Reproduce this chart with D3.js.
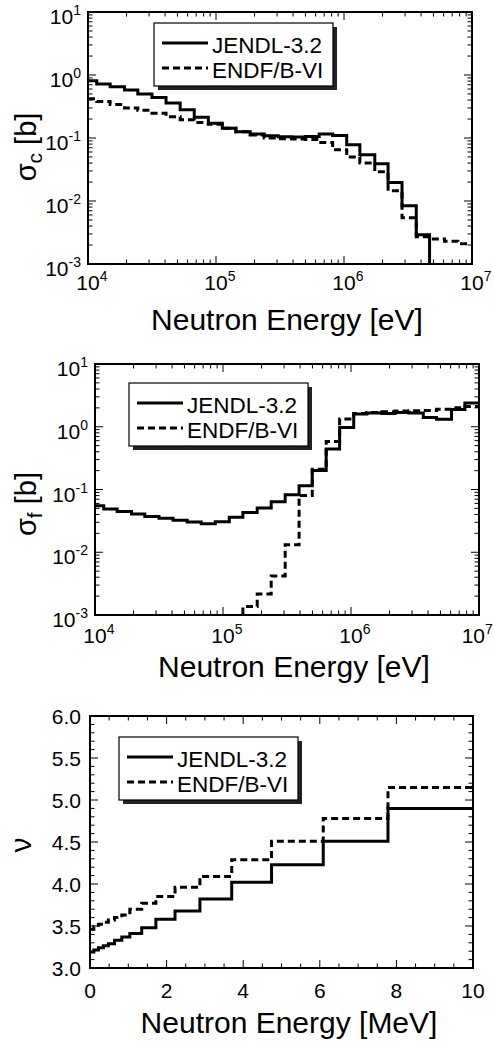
<!DOCTYPE html>
<html>
<head>
<meta charset="utf-8">
<script src="https://cdn.jsdelivr.net/npm/d3@7"></script>
<style>
  body { margin: 0; background: #fff; }
  text { font-family: "Liberation Sans", Arial, Helvetica, sans-serif; fill: #000; }
</style>
</head>
<body>
<svg id="fig" width="494" height="1044"></svg>
<script>
// group boundaries [eV]
const groupEdges = [1.00e4, 1.17e4, 1.49e4, 1.93e4, 2.45e4, 3.16e4, 4.07e4, 5.25e4, 6.76e4, 8.71e4,
  1.12e5, 1.43e5, 1.85e5, 2.38e5, 3.06e5, 3.93e5, 4.98e5, 6.40e5, 8.15e5,
  1.05e6, 1.33e6, 1.74e6, 2.21e6, 2.84e6, 3.67e6, 4.66e6, 6.10e6, 7.76e6, 1.00e7];

// capture cross section [b]
const capJendl = [0.81, 0.72, 0.65, 0.58, 0.50, 0.44, 0.36, 0.28, 0.214, 0.172, 0.143, 0.126, 0.116,
  0.109, 0.105, 0.104, 0.106, 0.116, 0.110, 0.078, 0.054, 0.039, 0.0197, 0.0084, 0.0029, 1e-5];
const capEndf = [0.42, 0.38, 0.34, 0.30, 0.275, 0.248, 0.218, 0.195, 0.177, 0.165, 0.143, 0.126, 0.112,
  0.100, 0.097, 0.096, 0.095, 0.085, 0.065, 0.050, 0.040, 0.029, 0.0145, 0.0054, 0.0027, 0.0025, 0.0023, 0.0021];

// fission cross section [b]
const fisJendl = [0.055, 0.049, 0.0448, 0.0407, 0.0373, 0.0347, 0.0323, 0.0303, 0.0285, 0.0307, 0.036,
  0.043, 0.0507, 0.064, 0.0826, 0.115, 0.20, 0.44, 0.97, 1.60, 1.65, 1.62, 1.68, 1.66, 1.41, 1.32, 1.88, 2.38];
const fisEndf = [5e-4, 0.00136, 0.00216, 0.0042, 0.0132, 0.080, 0.21, 0.58, 1.33, 1.62, 1.68, 1.74,
  1.78, 1.80, 1.82, 1.90, 2.0, 2.1];   // starts at groupEdges[10]

// nu-bar
const nuEdges = [0, 0.1, 0.22, 0.35, 0.48, 0.64, 0.83, 1.04, 1.35, 1.72, 2.22, 2.87, 3.70, 4.74, 6.09, 7.78, 10];
const nuJendl = [3.19, 3.215, 3.24, 3.265, 3.29, 3.33, 3.37, 3.41, 3.48, 3.58, 3.68, 3.82, 4.02, 4.23, 4.51, 4.90];
const nuEndf = [3.46, 3.49, 3.52, 3.545, 3.57, 3.60, 3.63, 3.70, 3.77, 3.85, 3.96, 4.09, 4.29, 4.51, 4.78, 5.15];

const legendLabels = ["JENDL-3.2", "ENDF/B-VI"];

const svg = d3.select("#fig");
const DASH = "7,4";
const W = 494;

function powLabel(sel, exp) {
  sel.append("tspan").text("10");
  sel.append("tspan").attr("font-size", 14).attr("dy", -9).text(exp);
}

function drawPanel(cfg) {
  const { left, right, top, bottom } = cfg.box;
  const g = svg.append("g");
  const x = cfg.x.range([left, right]);
  const y = cfg.y.range([bottom, top]);
  const isLog = cfg.log;

  const clipId = "clip" + cfg.id;
  svg.append("clipPath").attr("id", clipId)
    .append("rect").attr("x", left).attr("y", top)
    .attr("width", right - left).attr("height", bottom - top);

  // ticks, all four sides, inside
  const isMajorX = isLog ? t => Math.abs(Math.log10(t) - Math.round(Math.log10(t))) < 1e-9
                         : t => Math.abs(t / 2 - Math.round(t / 2)) < 1e-9;
  const isMajorY = isLog ? t => Math.abs(Math.log10(t) - Math.round(Math.log10(t))) < 1e-9
                         : t => Math.abs(t / 0.5 - Math.round(t / 0.5)) < 1e-9;
  const xt = isLog ? x.ticks() : x.ticks(20);
  const yt = isLog ? y.ticks() : y.ticks(30);

  const tk = g.append("g").attr("stroke", "#000").attr("stroke-width", 1);
  xt.forEach(t => {
    const L = isMajorX(t) ? 8 : 4.5;
    tk.append("line").attr("x1", x(t)).attr("x2", x(t)).attr("y1", bottom).attr("y2", bottom - L);
    tk.append("line").attr("x1", x(t)).attr("x2", x(t)).attr("y1", top).attr("y2", top + L);
  });
  yt.forEach(t => {
    const L = isMajorY(t) ? 8 : 4.5;
    tk.append("line").attr("y1", y(t)).attr("y2", y(t)).attr("x1", left).attr("x2", left + L);
    tk.append("line").attr("y1", y(t)).attr("y2", y(t)).attr("x1", right).attr("x2", right - L);
  });

  // tick labels
  xt.filter(isMajorX).forEach(t => {
    if (isLog) {
      const tx = g.append("text").attr("font-size", 21)
        .attr("x", x(t) - 11.7).attr("y", bottom + cfg.xLabelDy);
      powLabel(tx, Math.round(Math.log10(t)));
      // keep the last label inside the page
      const bb = tx.node().getBBox();
      if (bb.x + bb.width > W - 1) tx.attr("x", W - 1 - bb.width);
    } else {
      g.append("text").attr("font-size", 21).attr("text-anchor", "middle")
        .attr("x", x(t)).attr("y", bottom + cfg.xLabelDy).text(d3.format("d")(t));
    }
  });
  yt.filter(isMajorY).forEach(t => {
    if (isLog) {
      const ty = g.append("text").attr("font-size", 21).attr("text-anchor", "end")
        .attr("x", left - 7).attr("y", y(t) + 12);
      powLabel(ty, String(Math.round(Math.log10(t))));
    } else {
      g.append("text").attr("font-size", 21).attr("text-anchor", "end")
        .attr("x", left - 9).attr("y", y(t) + 7.5).text(d3.format(".1f")(t));
    }
  });

  // series
  const line = d3.line().x(d => x(d[0])).y(d => y(d[1])).curve(d3.curveStepAfter);
  const curves = g.append("g").attr("clip-path", `url(#${clipId})`);
  cfg.series.forEach(s => {
    const pts = s.edges.map((e, i) => [e, s.values[Math.min(i, s.values.length - 1)]]);
    curves.append("path").attr("d", line(pts))
      .attr("fill", "none").attr("stroke", "#000").attr("stroke-width", 3)
      .attr("stroke-dasharray", s.dash ? DASH : null);
  });

  // frame
  g.append("rect").attr("x", left).attr("y", top)
    .attr("width", right - left).attr("height", bottom - top)
    .attr("fill", "none").attr("stroke", "#000").attr("stroke-width", 2);

  // legend
  const [bx, by] = cfg.legend;
  const lg = g.append("g").attr("transform", `translate(${bx},${by})`);
  lg.append("rect").attr("x", 4).attr("y", 4).attr("width", 179).attr("height", 63).attr("fill", "#222");
  lg.append("rect").attr("width", 179).attr("height", 63)
    .attr("fill", "#fff").attr("stroke", "#000").attr("stroke-width", 1.2);
  legendLabels.forEach((lab, i) => {
    const ly = 20 + i * 25;
    lg.append("line").attr("x1", 8).attr("x2", 54).attr("y1", ly).attr("y2", ly)
      .attr("stroke", "#000").attr("stroke-width", 3).attr("stroke-dasharray", i ? DASH : null);
    lg.append("text").attr("x", 58).attr("y", ly + 9.5).attr("font-size", 22.5).text(lab);
  });

  // axis titles
  g.append("text").attr("font-size", 30).attr("text-anchor", "middle")
    .attr("x", cfg.xTitle[0]).attr("y", cfg.xTitle[1]).text(cfg.xTitle[2]);
  const yt2 = g.append("text").attr("font-size", cfg.yTitle.size || 29).attr("text-anchor", "middle")
    .attr("transform", `translate(${cfg.yTitle.x},${cfg.yTitle.y}) rotate(-90)`);
  yt2.append("tspan").text(cfg.yTitle.main);
  if (cfg.yTitle.sub) {
    yt2.append("tspan").attr("font-size", 21).attr("dy", 6).text(cfg.yTitle.sub);
    yt2.append("tspan").attr("dy", -6).text(" [b]");
  }
}

drawPanel({
  id: 1, log: true,
  box: { left: 88, right: 472, top: 12, bottom: 264 },
  x: d3.scaleLog().domain([1e4, 1e7]),
  y: d3.scaleLog().domain([1e-3, 10]),
  xLabelDy: 26,
  series: [
    { edges: groupEdges.slice(0, capJendl.length + 1), values: capJendl, dash: false },
    { edges: groupEdges, values: capEndf, dash: true }
  ],
  legend: [154, 23],
  xTitle: [287, 330, "Neutron Energy [eV]"],
  yTitle: { x: 36, y: 147, main: "\u03c3", sub: "c" }
});

drawPanel({
  id: 2, log: true,
  box: { left: 95, right: 479, top: 364, bottom: 615 },
  x: d3.scaleLog().domain([1e4, 1e7]),
  y: d3.scaleLog().domain([1e-3, 10]),
  xLabelDy: 28,
  series: [
    { edges: groupEdges, values: fisJendl, dash: false },
    { edges: groupEdges.slice(10), values: fisEndf, dash: true }
  ],
  legend: [129, 383],
  xTitle: [294, 677, "Neutron Energy [eV]"],
  yTitle: { x: 36, y: 504, main: "\u03c3", sub: "f" }
});

drawPanel({
  id: 3, log: false,
  box: { left: 90, right: 473, top: 716, bottom: 968 },
  x: d3.scaleLinear().domain([0, 10]),
  y: d3.scaleLinear().domain([3, 6]),
  xLabelDy: 30,
  series: [
    { edges: nuEdges, values: nuJendl, dash: false },
    { edges: nuEdges, values: nuEndf, dash: true }
  ],
  legend: [119, 737],
  xTitle: [289, 1033, "Neutron Energy [MeV]"],
  yTitle: { x: 31, y: 845, main: "\u03bd", size: 30 }
});
</script>
</body>
</html>
